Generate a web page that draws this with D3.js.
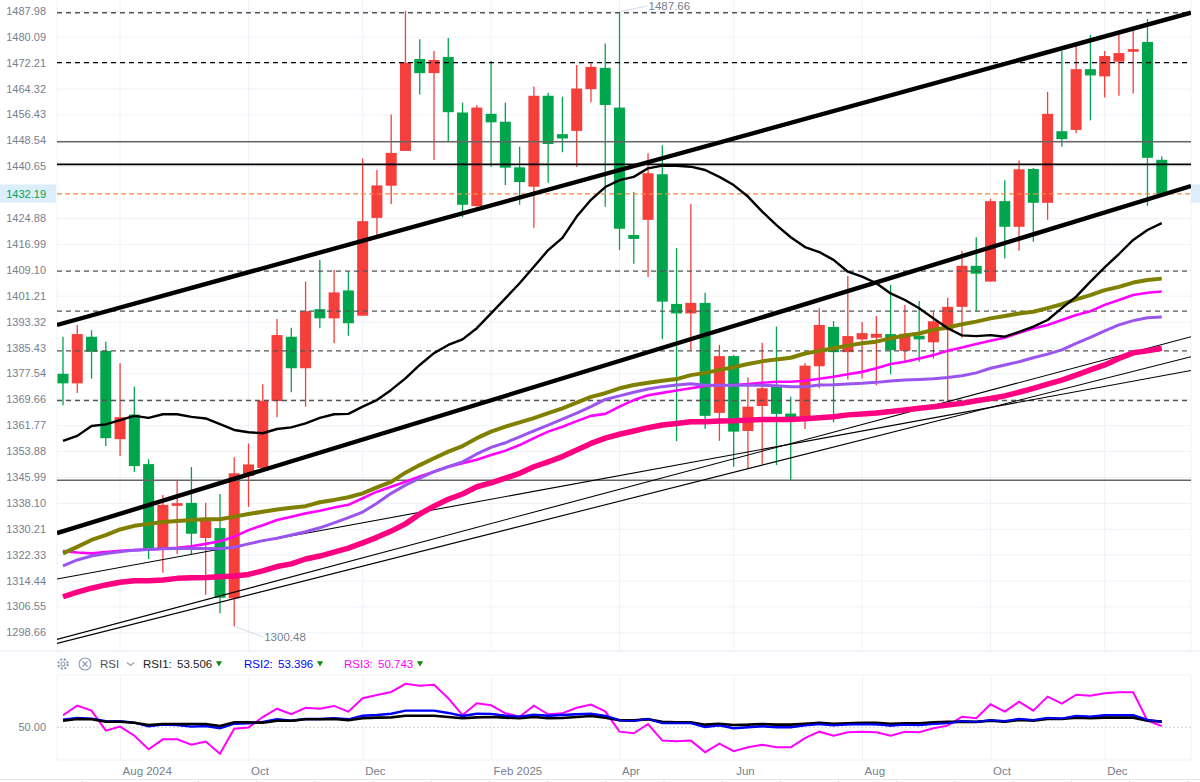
<!DOCTYPE html>
<html>
<head>
<meta charset="utf-8">
<script src="https://cdn.jsdelivr.net/npm/d3@7"></script>
<style>
    body { margin: 0; background: #fff; }
    svg { display: block; font-family: "Liberation Sans", Arial, sans-serif; }
</style>
</head>
<body>
<div id="chart"></div>
<script>
// weekly candles
var opens = [1377.4,1374.5,1388.7,1384.4,1357.5,1365.0,1349.9,1324.3,1337.2,1338.1,1327.4,1330.4,1309.0,1346.3,1348.7,1369.1,1388.7,1379.1,1397.1,1394.3,1402.8,1395.1,1424.9,1434.7,1445.3,1473.3,1469.0,1473.9,1457.0,1428.5,1456.6,1454.2,1440.3,1434.4,1462.1,1450.4,1451.4,1464.1,1470.6,1458.5,1419.7,1424.3,1438.2,1398.7,1395.8,1399.0,1365.5,1382.8,1360.0,1367.6,1373.5,1365.3,1364.1,1379.7,1391.7,1384.0,1387.9,1388.4,1389.5,1384.4,1389.0,1387.0,1390.7,1397.8,1410.3,1405.5,1430.0,1422.2,1439.8,1429.5,1451.3,1451.7,1470.2,1468.0,1472.5,1475.5,1478.5,1442.6];
var closes = [1374.5,1389.5,1384.1,1357.8,1364.2,1349.3,1324.1,1337.5,1338.0,1328.7,1333.2,1309.2,1347.1,1349.8,1369.2,1389.2,1379.1,1396.5,1394.3,1402.2,1392.8,1423.9,1434.8,1444.7,1472.2,1469.0,1473.0,1457.1,1428.9,1458.5,1454.0,1440.2,1435.8,1462.1,1447.4,1449.1,1464.3,1470.9,1459.3,1421.6,1418.5,1438.5,1399.4,1395.8,1399.0,1364.6,1382.8,1359.8,1367.4,1373.0,1365.2,1364.1,1379.9,1392.3,1384.0,1388.9,1389.8,1389.6,1384.6,1389.6,1387.9,1393.4,1397.8,1410.3,1407.9,1430.0,1422.2,1439.7,1429.5,1456.6,1448.9,1470.2,1468.3,1474.2,1475.1,1476.3,1443.2,1432.19];
var highs = [1388.7,1392.3,1390.7,1387.2,1380.6,1373.5,1351.4,1340.5,1345.0,1349.0,1338.1,1340.8,1352.0,1356.2,1374.2,1394.1,1391.4,1405.5,1412.1,1409.0,1408.5,1443.0,1439.5,1456.4,1487.9,1479.3,1475.7,1479.7,1460.0,1459.2,1472.7,1460.0,1446.6,1464.9,1463.0,1461.8,1471.5,1472.0,1478.0,1487.66,1432.8,1444.6,1447.0,1415.7,1429.1,1402.1,1386.2,1383.1,1376.3,1386.9,1391.8,1370.4,1380.6,1397.4,1393.5,1407.2,1393.2,1395.0,1404.5,1398.4,1399.6,1396.3,1400.6,1414.8,1419.0,1430.7,1436.4,1442.4,1440.1,1463.3,1475.7,1478.4,1480.6,1475.7,1480.6,1481.9,1485.5,1443.7];
var lows = [1367.8,1371.6,1375.9,1355.4,1352.4,1347.5,1321.0,1316.8,1322.5,1322.5,1310.1,1304.5,1300.48,1336.9,1348.1,1364.2,1371.8,1367.4,1391.3,1386.7,1389.0,1395.1,1419.7,1429.1,1445.3,1462.5,1442.5,1448.3,1425.1,1428.3,1440.5,1434.9,1428.9,1421.9,1435.6,1444.9,1440.5,1460.1,1428.3,1415.1,1410.9,1406.9,1387.9,1356.9,1384.4,1360.6,1357.0,1349.1,1348.6,1349.8,1349.6,1344.8,1360.6,1373.0,1362.6,1375.7,1376.0,1373.9,1377.3,1381.3,1381.1,1382.0,1368.9,1388.5,1396.5,1405.5,1412.5,1414.9,1417.6,1424.3,1446.6,1450.7,1454.6,1461.6,1462.1,1462.8,1428.6,1431.9];

// moving averages
var maBlack = [1357.0,1358.5,1361.5,1362.0,1363.3,1364.6,1364.0,1365.1,1365.1,1364.3,1363.8,1362.1,1360.3,1359.6,1359.3,1360.6,1361.1,1362.3,1364.0,1365.1,1365.2,1367.4,1369.4,1372.5,1376.0,1380.1,1383.7,1386.2,1387.9,1391.3,1395.8,1400.4,1405.0,1410.0,1415.1,1418.8,1425.3,1430.4,1434.3,1436.4,1437.4,1440.0,1440.8,1440.8,1440.5,1439.5,1437.4,1434.9,1431.4,1426.8,1422.7,1419.0,1416.0,1414.5,1412.1,1408.5,1407.0,1405.0,1401.9,1399.9,1397.4,1394.3,1391.3,1389.1,1388.9,1389.2,1388.7,1390.2,1391.8,1393.8,1397.4,1400.9,1405.5,1409.8,1413.9,1418.2,1421.2,1423.3];
var maOlive = [1322.7,1324.7,1326.8,1328.3,1330.0,1331.1,1331.7,1332.3,1332.6,1332.9,1333.1,1333.1,1333.9,1334.7,1335.4,1336.1,1336.6,1337.1,1338.3,1339.0,1339.8,1341.0,1342.8,1344.5,1347.3,1349.6,1351.7,1353.7,1355.4,1357.8,1359.8,1361.3,1362.6,1363.9,1365.4,1366.9,1368.6,1370.4,1371.5,1373.0,1374.0,1374.7,1375.3,1375.8,1377.0,1377.7,1378.6,1379.4,1380.4,1381.2,1381.8,1382.3,1383.6,1384.4,1385.2,1386.0,1386.7,1387.2,1388.2,1389.1,1389.7,1390.8,1391.5,1392.5,1393.3,1394.3,1395.0,1395.8,1396.3,1397.4,1398.6,1400.1,1401.4,1402.9,1403.9,1405.2,1406.0,1406.4];
var maPurple = [1318.9,1320.7,1321.9,1322.7,1323.2,1323.7,1323.9,1324.1,1324.2,1324.3,1324.2,1324.1,1324.6,1325.6,1326.6,1327.3,1328.3,1329.3,1330.5,1332.0,1333.6,1335.3,1338.0,1341.0,1343.5,1345.6,1347.6,1349.1,1350.6,1353.0,1355.0,1356.4,1358.2,1360.0,1361.8,1363.6,1365.4,1367.4,1369.6,1370.7,1371.8,1372.8,1373.5,1374.0,1374.4,1373.9,1373.9,1373.9,1373.9,1373.9,1373.8,1373.5,1373.5,1374.0,1374.1,1374.3,1374.5,1374.8,1375.2,1375.5,1375.7,1375.9,1376.3,1376.8,1377.7,1379.1,1380.1,1381.1,1382.3,1383.4,1384.7,1386.7,1388.5,1390.5,1392.3,1393.6,1394.5,1394.7];
var maMagenta = [1323.4,1323.0,1322.7,1323.1,1323.5,1323.7,1323.9,1324.1,1324.4,1324.9,1325.6,1326.4,1327.8,1329.8,1331.3,1332.9,1333.9,1334.9,1335.7,1336.7,1337.5,1339.5,1341.5,1343.0,1344.5,1346.1,1347.6,1349.1,1350.2,1351.2,1352.7,1354.0,1355.7,1357.8,1359.8,1361.3,1363.0,1364.6,1365.2,1367.4,1369.4,1370.9,1371.6,1372.3,1373.0,1373.7,1373.9,1374.0,1374.3,1374.7,1375.0,1375.0,1375.3,1375.9,1376.5,1377.3,1378.0,1379.1,1380.4,1381.1,1382.1,1383.1,1384.4,1385.4,1386.5,1387.5,1388.4,1389.9,1391.2,1392.3,1393.8,1395.3,1396.5,1398.4,1399.9,1401.4,1402.1,1402.5];
var maPink = [1309.5,1310.9,1312.1,1313.1,1313.9,1314.4,1314.4,1314.6,1315.1,1315.3,1315.4,1315.6,1315.8,1316.3,1317.4,1318.7,1319.5,1321.0,1321.9,1323.1,1324.3,1325.9,1327.6,1329.5,1331.7,1334.7,1337.1,1339.2,1340.8,1343.0,1344.2,1345.6,1347.1,1349.1,1350.6,1352.2,1354.2,1356.2,1357.8,1359.0,1360.0,1361.0,1361.8,1362.3,1362.8,1362.8,1363.0,1363.1,1363.3,1363.5,1363.5,1363.5,1363.7,1364.0,1364.3,1364.9,1365.2,1365.5,1365.9,1366.4,1366.9,1367.4,1367.9,1368.4,1369.2,1369.9,1370.7,1371.8,1373.0,1374.3,1375.5,1377.0,1378.6,1380.1,1382.1,1383.8,1384.4,1385.2];

// RSI pane
var rsi1 = [54.0,55.1,54.9,53.4,53.4,52.8,51.4,52,52,52,52,50.8,53.1,53.1,52.8,54,54,54.9,54.9,55.1,54.3,55.5,55.9,56.1,57.1,57.1,57.1,56.3,55.5,56.1,56.3,55.9,55.5,56.3,55.5,55.7,56.3,56.9,55.9,54.3,54.3,54.9,53.3,53.1,53.1,51.6,52.2,51.4,51.6,52,51.6,51.6,52.2,52.8,52.2,52.5,52.8,52.8,52.2,52.5,52.5,53.1,53.3,53.3,53.3,54,53.4,54.5,54,55.1,55.1,55.9,55.5,55.9,55.9,55.9,54,53.506];
var rsi2 = [54.7,55.7,55.3,53.7,53.7,52.8,50.6,51.6,51.4,50.4,50.8,49.4,52.2,52.5,53.3,54.9,54,55.1,55.1,55.5,54.9,57.1,57.5,58.3,60.2,60.2,60.2,58.8,56.9,58.3,58.2,57.1,56.5,57.7,57.1,57.5,58,58.3,56.9,54.3,54,55.1,52.6,52.6,52.6,50.2,51.2,49.4,50,50.6,50,50,51.2,52,51.2,51.8,52,51.8,51,51.6,51.4,52.2,52.6,53.7,53.3,54.3,53.7,55.1,54.3,55.7,55.3,56.9,56.5,57.4,57.4,57.4,54.5,53.396];
var rsi3 = [57.4,63.3,60.2,47.9,50.4,44.8,36.5,42.6,42.6,39.3,41.2,33.8,49.1,49.8,56.3,61.4,58,62,61.4,63.1,59.6,67.8,69.8,71.7,76.7,75.5,76.1,67.8,57.5,64.7,63.5,58.6,56.5,63.3,58,58.6,62,63.9,59.8,47.3,46.3,52,41.8,41.4,41.8,34.7,39.9,35.3,37.7,39.3,37.7,37.7,43.3,47.3,44.8,46.9,47.3,46.9,44.8,47.3,46.9,49.4,51,56.5,55.5,64.1,59.6,65.7,60.2,68.8,64.5,70,69.4,70.9,71.5,71.5,54,50.743];

var priceTicks = ["1487.98","1480.09","1472.21","1464.32","1456.43","1448.54","1440.65","1424.88","1416.99","1409.10","1401.21","1393.32","1385.43","1377.54","1369.66","1361.77","1353.88","1345.99","1338.10","1330.21","1322.33","1314.44","1306.55","1298.66"];
var monthIndex = [4,13,21,30,39,47,56,65,73];
var monthLabels = ["Aug 2024","Oct","Dec","Feb 2025","Apr","Jun","Aug","Oct","Dec"];

// horizontal levels drawn on the chart
var dashedGrey = [1487.4,1408.7,1396.5,1384.4,1369.3];
var dashedBlack = [1472.2];
var solidGrey = [1448.1,1345.0];
var solidBlack = [1441.2];
var lastPrice = 1432.19;

// trend lines: [index, price, index, price]
var channelLines = [[-0.42,1392.3,79.05,1487.4],[-0.42,1328.9,79.05,1434.6]];
var thinLines = [[-0.42,1296.5,79.05,1388.7],[-0.42,1295.3,79.05,1382.6],[-0.42,1314.9,79.05,1378.4]];

var width = 1200, height = 782;
var paneLeft = 57, paneRight = 1191, mainBottom = 650, rsiTop = 675, rsiBottom = 760;
var red = "#f43f3b", green = "#00a54c", gridColor = "#eef2f8", textColor = "#76808f";

var svg = d3.select("#chart").append("svg")
    .attr("width", width)
    .attr("height", height);

var x = d3.scaleLinear().domain([-0.42, 79.05]).range([paneLeft, paneRight]);
var y = d3.scaleLinear().domain([1293.28, 1491.27]).range([mainBottom, 0]);
var yRsi = d3.scaleLinear().domain([29.9, 82.1]).range([rsiBottom, rsiTop]);

svg.append("clipPath").attr("id", "mainClip").append("rect")
    .attr("x", paneLeft).attr("y", 0)
    .attr("width", paneRight - paneLeft).attr("height", mainBottom);

// frames and separators
svg.append("rect").attr("x", 0).attr("y", mainBottom).attr("width", width).attr("height", 2).attr("fill", "#f0f3f9");
[rsiTop, rsiBottom].forEach(function (v) {
    svg.append("line").attr("x1", paneLeft).attr("x2", paneRight).attr("y1", v).attr("y2", v).attr("stroke", gridColor);
});
svg.append("line").attr("x1", 0).attr("x2", width).attr("y1", 779.5).attr("y2", 779.5).attr("stroke", "#e3e7ee");
d3.range(82, width, 58.2).forEach(function (v) {
    svg.append("line").attr("x1", v).attr("x2", v).attr("y1", 780).attr("y2", 782).attr("stroke", "#e3e7ee");
});
[paneLeft, paneRight].forEach(function (v) {
    svg.append("line").attr("x1", v).attr("x2", v).attr("y1", 0).attr("y2", mainBottom).attr("stroke", gridColor);
    svg.append("line").attr("x1", v).attr("x2", v).attr("y1", rsiTop).attr("y2", rsiBottom).attr("stroke", gridColor);
});

// price axis with grid
var priceAxis = d3.axisLeft(y)
    .tickValues(priceTicks.map(Number))
    .tickFormat(d3.format(".2f"))
    .tickSize(paneLeft - paneRight)
    .tickPadding(11);
var gy = svg.append("g").attr("transform", "translate(" + paneLeft + ",0)").call(priceAxis);
gy.select(".domain").remove();
gy.selectAll("line").attr("stroke", gridColor).attr("stroke-width", 1);
gy.selectAll("text").attr("fill", textColor).style("font-size", "11px");

// month grid
monthIndex.forEach(function (d) {
    svg.append("line").attr("x1", x(d)).attr("x2", x(d)).attr("y1", 0).attr("y2", mainBottom).attr("stroke", gridColor);
});

// month axis sits under the RSI pane
var monthAxis = d3.axisBottom(x)
    .tickValues(monthIndex)
    .tickFormat(function (d, i) { return monthLabels[i]; })
    .tickSize(rsiTop - rsiBottom)
    .tickPadding(7);
var gx = svg.append("g").attr("transform", "translate(0," + rsiBottom + ")").call(monthAxis);
gx.select(".domain").remove();
gx.selectAll("line").attr("stroke", gridColor);
gx.selectAll("text")
    .attr("fill", textColor)
    .attr("text-anchor", "start")
    .attr("dx", 2)
    .style("font-size", "11.5px");

var plot = svg.append("g").attr("clip-path", "url(#mainClip)");
var candles = d3.range(opens.length);

// wicks
plot.append("g").selectAll("line")
    .data(candles)
    .enter()
    .append("line")
    .attr("x1", function (d) { return x(d); })
    .attr("x2", function (d) { return x(d); })
    .attr("y1", function (d) { return y(highs[d]); })
    .attr("y2", function (d) { return y(lows[d]); })
    .attr("stroke", function (d) { return closes[d] > opens[d] ? red : green; })
    .attr("stroke-width", 1.3);

// bodies
var bodyWidth = 11;
plot.append("g").selectAll("rect")
    .data(candles)
    .enter()
    .append("rect")
    .attr("x", function (d) { return x(d) - bodyWidth / 2; })
    .attr("y", function (d) { return y(Math.max(opens[d], closes[d])); })
    .attr("width", bodyWidth)
    .attr("height", function (d) { return Math.max(1.5, Math.abs(y(opens[d]) - y(closes[d]))); })
    .attr("fill", function (d) { return closes[d] > opens[d] ? red : green; });

// horizontal levels
function level(values, color, strokeWidth, dash) {
    values.forEach(function (v) {
        plot.append("line")
            .attr("x1", paneLeft).attr("x2", paneRight)
            .attr("y1", y(v)).attr("y2", y(v))
            .attr("stroke", color)
            .attr("stroke-width", strokeWidth)
            .attr("stroke-dasharray", dash);
    });
}
level(solidGrey, "#666", 1.6, null);
level(solidBlack, "#000", 1.8, null);
level(dashedGrey, "#555", 1.4, "5,4");
level(dashedBlack, "#000", 1.3, "5,4");
level([lastPrice], "#f58a3c", 1.2, "5,3");

// trend lines
function trend(lines, strokeWidth) {
    lines.forEach(function (t) {
        plot.append("line")
            .attr("x1", x(t[0])).attr("y1", y(t[1]))
            .attr("x2", x(t[2])).attr("y2", y(t[3]))
            .attr("stroke", "#000")
            .attr("stroke-width", strokeWidth);
    });
}
trend(thinLines, 1.1);

// moving averages
var maLine = d3.line()
    .x(function (d, i) { return x(i); })
    .y(function (d) { return y(d); });
function drawMa(values, color, strokeWidth) {
    plot.append("path")
        .attr("d", maLine(values))
        .attr("fill", "none")
        .attr("stroke", color)
        .attr("stroke-width", strokeWidth)
        .attr("stroke-linejoin", "round");
}
drawMa(maPink, "#ff0080", 5.5);
drawMa(maMagenta, "#ff00ff", 2.6);
drawMa(maPurple, "#9a55ee", 3);
drawMa(maOlive, "#808000", 4);
drawMa(maBlack, "#000", 2.4);
trend(channelLines, 4.4);

// high / low callouts
function callout(index, price, dx, dy, label) {
    svg.append("line")
        .attr("x1", x(index)).attr("y1", y(price))
        .attr("x2", x(index) + dx).attr("y2", y(price) + dy)
        .attr("stroke", "#d5dbe5");
    svg.append("text")
        .attr("x", x(index) + dx + 1).attr("y", y(price) + dy + 4)
        .attr("fill", textColor)
        .style("font-size", "11.5px")
        .text(label);
}
callout(39, 1487.66, 28, -6, "1487.66");
callout(12, 1300.48, 29, 10.5, "1300.48");

// last price tag
[[0, paneLeft - 1], [paneRight, width - paneRight]].forEach(function (r) {
    svg.append("rect")
        .attr("x", r[0]).attr("y", y(lastPrice) - 9.5)
        .attr("width", r[1]).attr("height", 18)
        .attr("fill", "#dcedfc");
});
svg.append("text")
    .attr("x", 46).attr("y", y(lastPrice) + 4)
    .attr("text-anchor", "end")
    .attr("fill", "#00a54c")
    .style("font-size", "11px")
    .text(lastPrice.toFixed(2));

// RSI pane
svg.append("line")
    .attr("x1", paneLeft).attr("x2", paneRight)
    .attr("y1", yRsi(50)).attr("y2", yRsi(50))
    .attr("stroke", "#d0d0d0")
    .attr("stroke-dasharray", "2,2");
svg.append("text")
    .attr("x", 46).attr("y", yRsi(50) + 4)
    .attr("text-anchor", "end")
    .attr("fill", textColor)
    .style("font-size", "11px")
    .text("50.00");

var rsiLine = d3.line()
    .x(function (d, i) { return x(i); })
    .y(function (d) { return yRsi(d); });
[[rsi3, "#ff00ff", 2], [rsi2, "#0000ff", 2.4], [rsi1, "#000", 2.6]].forEach(function (s) {
    svg.append("path")
        .attr("d", rsiLine(s[0]))
        .attr("fill", "none")
        .attr("stroke", s[1])
        .attr("stroke-width", s[2]);
});
// the later stretch of blue sits on top of black
svg.append("path")
    .attr("d", d3.line().x(function (d) { return x(d); }).y(function (d) { return yRsi(rsi2[d]); })(d3.range(28, 78)))
    .attr("fill", "none")
    .attr("stroke", "#0000ff")
    .attr("stroke-width", 1.6);

// legend row
var legendY = 664;
var icons = svg.append("g").attr("fill", "none").attr("stroke", "#8c9db5").attr("stroke-width", 1.1);
icons.append("circle").attr("cx", 63).attr("cy", legendY).attr("r", 4.8).attr("stroke-width", 2).attr("stroke-dasharray", "2.2,1.6");
icons.append("circle").attr("cx", 63).attr("cy", legendY).attr("r", 2);
icons.append("circle").attr("cx", 85).attr("cy", legendY).attr("r", 6);
icons.append("path").attr("d", "M82.5,661.5L87.5,666.5M87.5,661.5L82.5,666.5");
icons.append("path").attr("d", "M127,662.5L130.5,665.5L134,662.5");

function legendText(px, color, label) {
    svg.append("text")
        .attr("x", px).attr("y", legendY + 4)
        .attr("fill", color)
        .style("font-size", "11.5px")
        .text(label);
}
legendText(100, "#4a4f58", "RSI");
legendText(143, "#222", "RSI1:");
legendText(177, "#222", "53.506");
legendText(244, "#0000ff", "RSI2:");
legendText(278, "#0000ff", "53.396");
legendText(344, "#ff00ff", "RSI3:");
legendText(378, "#ff00ff", "50.743");
[219, 320, 420].forEach(function (px) {
    svg.append("path")
        .attr("d", d3.symbol().type(d3.symbolTriangle).size(16))
        .attr("transform", "translate(" + px + "," + (legendY - 1) + ") rotate(180)")
        .attr("fill", "#0a8a0a");
});
</script>
</body>
</html>
